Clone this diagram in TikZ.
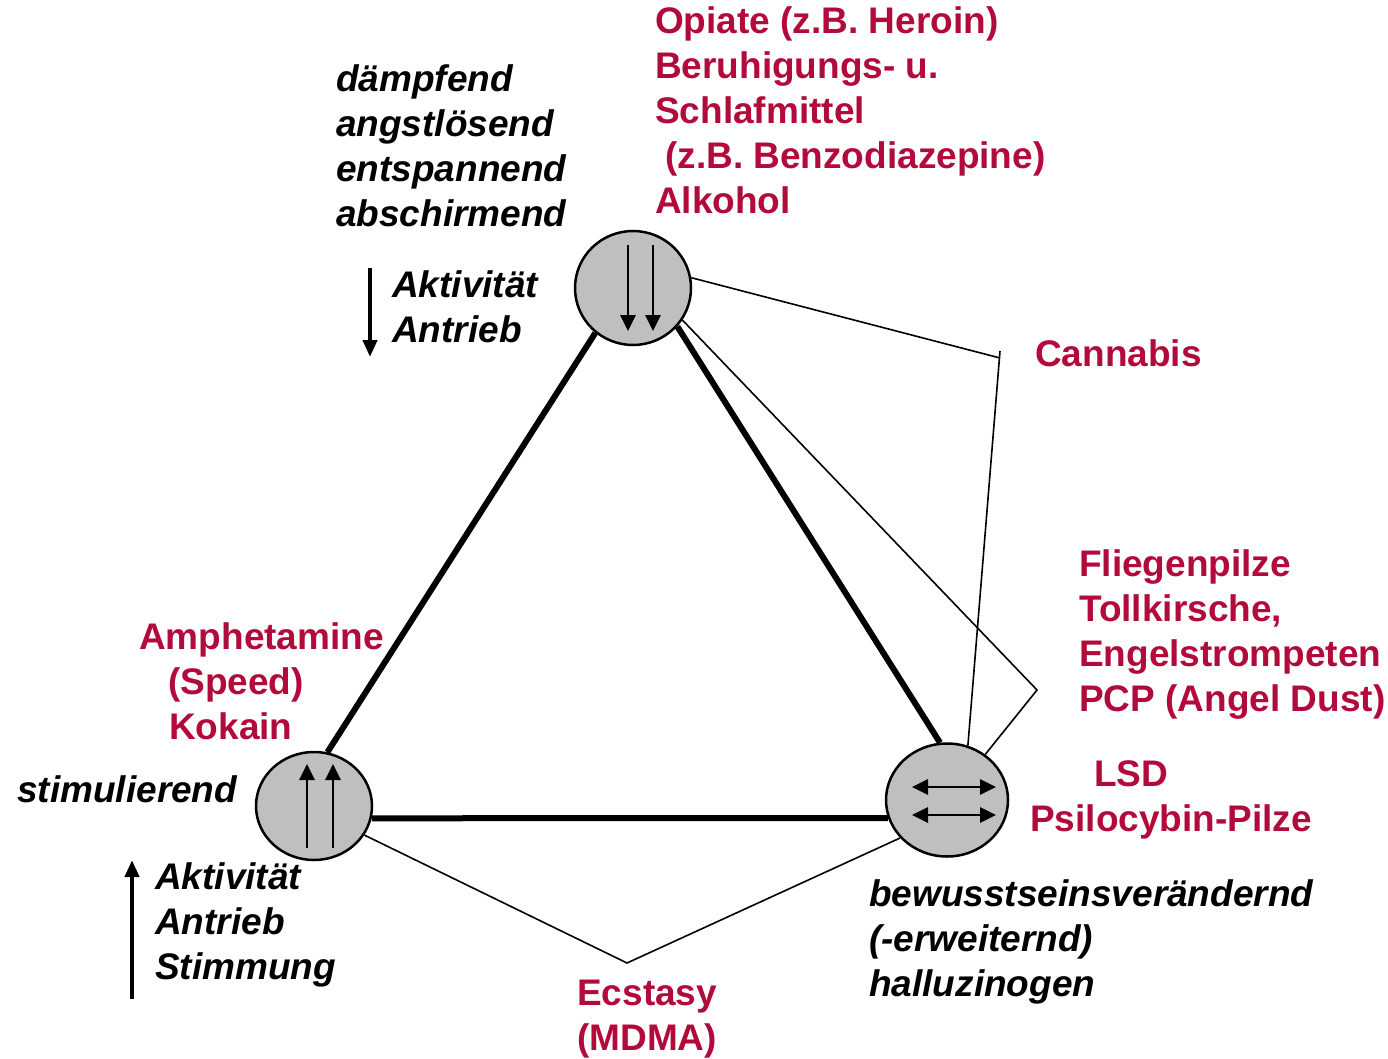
\documentclass[tikz,border=0pt]{standalone}
\usepackage{fontspec}
\setmainfont{Liberation Sans}
\usetikzlibrary{shapes.geometric,arrows.meta,calc}
\definecolor{drugred}{RGB}{178,10,58}
\newcommand{\txtsize}{\fontsize{37}{45}\selectfont}
\tikzset{drug/.style={color=drugred,font=\txtsize\bfseries,align=left,inner sep=0pt,anchor=base west}}
\tikzset{effect/.style={color=black,font=\txtsize\bfseries\itshape,align=left,inner sep=0pt,anchor=base west}}
\tikzset{hub/.style={ellipse,draw,fill=gray!50,line width=2.5pt,inner sep=0pt}}
\tikzset{bond/.style={line width=6pt},link/.style={line width=1.6pt}}
\tikzset{tip/.style={line width=2.8pt,-{Triangle[length=16pt,width=15pt]}},
         twotip/.style={line width=2.8pt,{Triangle[length=16pt,width=15pt]}-{Triangle[length=16pt,width=15pt]}},
         bigtip/.style={line width=4pt,-{Triangle[length=17pt,width=14pt]}}}

\begin{document}
\begin{tikzpicture}[x=1pt,y=-1pt]
	\useasboundingbox (0,0) rectangle (1388,1059);
	% the three poles
	\node [hub,minimum width=116pt,minimum height=114pt] (sedat) at (633,288) {};
	\node [hub,minimum width=116pt,minimum height=108pt] (stim) at (314,806) {};
	\node [hub,minimum width=122pt,minimum height=113pt] (hallu) at (947,800) {};
	
	\draw [tip] ($(sedat)+(-5,-43)$) -- ($(sedat)+(-5,43)$);
	\draw [tip] ($(sedat)+(20,-43)$) -- ($(sedat)+(20,43)$);
	\draw [tip] ($(stim)+(-7,42)$) -- ($(stim)+(-7,-42)$);
	\draw [tip] ($(stim)+(19,42)$) -- ($(stim)+(19,-42)$);
	\draw [twotip] ($(hallu)+(-35,-13)$) -- ($(hallu)+(49,-13)$);
	\draw [twotip] ($(hallu)+(-35,15)$) -- ($(hallu)+(49,15)$);
	
	% triangle
	\draw [bond] (sedat.230) -- (stim.76);
	\draw [bond] (sedat.-41) -- (hallu.97);
	\draw [bond] (stim.-12) -- (hallu.197);
	
	% mixed substances
	\coordinate (cannJ) at (1000,358);
	\coordinate (cannT) at (1000,351);
	\coordinate (pilzJ) at (1037,690);
	\coordinate (ecstJ) at (627,963);
	\draw [link] (sedat.10) -- (cannJ);
	\draw [link] (cannT) -- (hallu.69);
	\draw [link] (sedat.-33) -- (pilzJ) -- (hallu.50);
	\draw [link] (stim.-30) -- (ecstJ) -- (hallu.219);
	
	% texts (base = last line)
	\node [drug] (opiate) at (655,214) {Opiate (z.B. Heroin)\\Beruhigungs- u.\\Schlafmittel\\\hspace*{10pt}(z.B. Benzodiazepine)\\Alkohol};
	\node [effect] (daempf) at (336,227) {dämpfend\\angstlösend\\entspannend\\abschirmend};
	\node [effect] (aktivDown) at (392,342) {Aktivität\\Antrieb};
	\node [drug] (cannabis) at (1035,366) {Cannabis};
	\node [drug] (pilze) at (1079,711) {Fliegenpilze\\Tollkirsche,\\Engelstrompeten\\PCP (Angel Dust)};
	\node [drug] (lsd) at (1030,831) {\hspace*{64pt}LSD\\Psilocybin-Pilze};
	\node [drug] (amph) at (139,739) {Amphetamine\\\hspace*{29pt}(Speed)\\\hspace*{30pt}Kokain};
	\node [effect] (stimul) at (17,802) {stimulierend};
	\node [effect] (aktivUp) at (155,979) {Aktivität\\Antrieb\\Stimmung};
	\node [effect] (bewusst) at (869,996) {bewusstseinsverändernd\\(-erweiternd)\\halluzinogen};
	\node [drug] (ecstasy) at (577,1050) {Ecstasy\\(MDMA)};
	
	% side arrows
	\coordinate (downA) at (370,268);
	\coordinate (downB) at (370,357);
	\coordinate (upA) at (132,999);
	\coordinate (upB) at (132,860);
	\draw [bigtip] (downA) -- (downB);
	\draw [bigtip] (upA) -- (upB);
\end{tikzpicture}
\end{document}
